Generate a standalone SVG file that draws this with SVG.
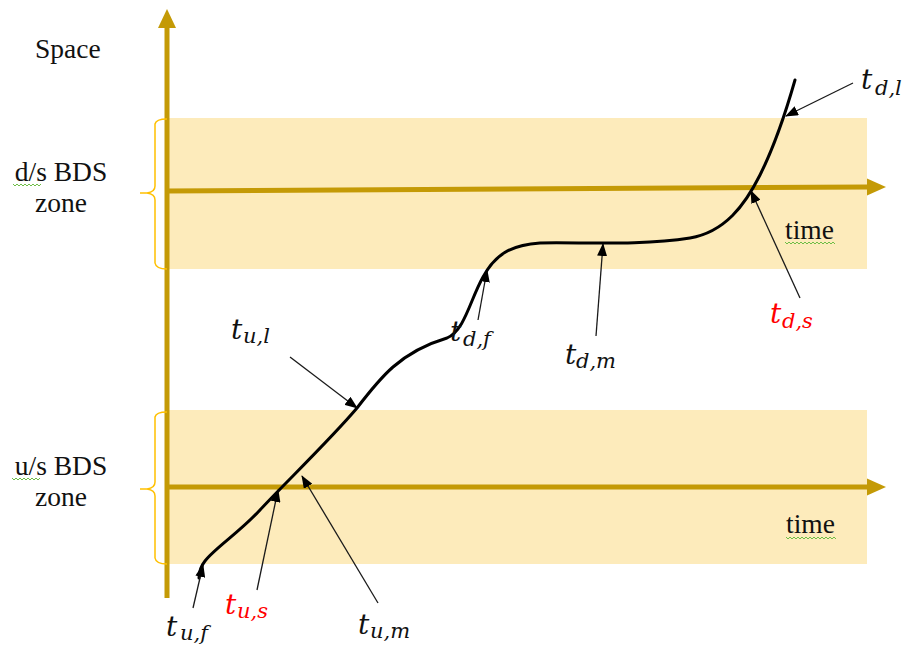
<svg xmlns="http://www.w3.org/2000/svg" width="905" height="645" viewBox="0 0 905 645">
<style>
.band{fill:#FDEBBB}
.axis{stroke:#C49A06;stroke-width:5;fill:none}
.ahead{fill:#C49A06}
.brace{stroke:#FFC000;stroke-width:1.5;fill:none}
.ptr{stroke:#1a1a1a;stroke-width:1.3;fill:none;marker-end:url(#ah)}
.curve{stroke:#000;stroke-width:3;fill:none;stroke-linecap:round}
.txt{font-family:"Liberation Serif","Times New Roman",serif;font-size:27.5px;fill:#111}
.lbl{font-family:"DejaVu Serif",serif;font-style:italic;font-size:28px;fill:#111}
.sub{font-size:21px}
.red{fill:#FF0000}
.squig{stroke:#6DBE45;stroke-width:1;fill:none}
</style>
<defs>
<marker id="ah" markerWidth="13" markerHeight="10" refX="12" refY="5" orient="auto" markerUnits="userSpaceOnUse">
<path d="M0,0 L13,5 L0,10 z" fill="#000"/>
</marker>
</defs>

<g id="bands">
<rect class="band" x="167" y="118" width="700" height="151"/>
<rect class="band" x="167" y="410" width="700" height="154"/>
</g>

<g id="axes">
<line class="axis" x1="167" y1="598" x2="167" y2="26"/>
<path class="ahead" d="M167,9 L176,28 L158,28 z"/>
<line class="axis" x1="167" y1="191" x2="868" y2="187"/>
<path class="ahead" d="M886,187 L867,178.5 L867,195.5 z"/>
<line class="axis" x1="167" y1="487" x2="868" y2="487"/>
<path class="ahead" d="M886,487 L867,478.5 L867,495.5 z"/>
</g>

<g id="braces">
<path class="brace" d="M167,119 Q156,119 155,124 L155,186 Q155,192 147,193 L140,193 M147,193 Q155,194 155,200 L155,263 Q156,269 167,269"/>
<path class="brace" d="M167,412 Q156,412 155,417 L155,482 Q155,488 147,489 L140,489 M147,489 Q155,490 155,496 L155,558 Q156,564 167,564"/>
</g>

<g id="labels">
<text class="txt" x="35" y="58">Space</text>
<text class="txt" x="61" y="181" text-anchor="middle">d/s BDS</text>
<text class="txt" x="61" y="212" text-anchor="middle">zone</text>
<text class="txt" x="61" y="475" text-anchor="middle">u/s BDS</text>
<text class="txt" x="61" y="506" text-anchor="middle">zone</text>
<text class="txt" x="785" y="239">time</text>
<text class="txt" x="786" y="533">time</text>
<path class="squig" d="M13,184 l2,2 l2,-2 l2,2 l2,-2 l2,2 l2,-2 l2,2 l2,-2 l2,2 l2,-2 l2,2 l2,-2 l2,2 l2,-2"/>
<path class="squig" d="M12,478 l2,2 l2,-2 l2,2 l2,-2 l2,2 l2,-2 l2,2 l2,-2 l2,2 l2,-2 l2,2 l2,-2 l2,2 l2,-2"/>
<path class="squig" d="M785,242 l2,2 l2,-2 l2,2 l2,-2 l2,2 l2,-2 l2,2 l2,-2 l2,2 l2,-2 l2,2 l2,-2 l2,2 l2,-2 l2,2 l2,-2 l2,2 l2,-2 l2,2 l2,-2 l2,2 l2,-2 l2,2 l2,-2 l2,2"/>
<path class="squig" d="M786,537 l2,2 l2,-2 l2,2 l2,-2 l2,2 l2,-2 l2,2 l2,-2 l2,2 l2,-2 l2,2 l2,-2 l2,2 l2,-2 l2,2 l2,-2 l2,2 l2,-2 l2,2 l2,-2 l2,2 l2,-2 l2,2 l2,-2 l2,2"/>
</g>

<g id="trajectory">
<path class="curve" d="M199,578 C199,571 201,566 205,561 C215,548 240,532 260,510 S330,440 357,408 C380,378 400,352 447,338 C465,330 470,300 483,277 C495,255 510,245 540,243 C580,242 640,246 690,238 C725,232 745,205 760,175 C775,145 785,115 795,80"/>
</g>

<g id="connectors">
<line class="ptr" x1="853" y1="83" x2="786" y2="116"/>
<line class="ptr" x1="800" y1="298" x2="751" y2="191"/>
<line class="ptr" x1="596" y1="336" x2="603" y2="244"/>
<line class="ptr" x1="478" y1="320" x2="487" y2="270"/>
<line class="ptr" x1="290" y1="357" x2="357" y2="408"/>
<line class="ptr" x1="257" y1="590" x2="278" y2="490"/>
<line class="ptr" x1="378" y1="603" x2="302" y2="476"/>
<line class="ptr" x1="193" y1="608" x2="203" y2="565"/>
</g>

<g id="node-tdl"><text class="lbl" x="861" y="89">t<tspan class="sub" x="875" y="95">d,l</tspan></text></g>
<g id="node-tds"><text class="lbl red" x="770" y="323">t<tspan class="sub" x="782" y="328">d,s</tspan></text></g>
<g id="node-tdm"><text class="lbl" x="565" y="364">t<tspan class="sub" x="576" y="368">d,m</tspan></text></g>
<g id="node-tdf"><text class="lbl" x="450" y="341">t<tspan class="sub" x="463" y="346">d,f</tspan></text></g>
<g id="node-tul"><text class="lbl" x="231" y="339">t<tspan class="sub" x="243" y="343">u,l</tspan></text></g>
<g id="node-tuf"><text class="lbl" x="166" y="636">t<tspan class="sub" x="180" y="640">u,f</tspan></text></g>
<g id="node-tus"><text class="lbl red" x="225" y="614">t<tspan class="sub" x="237" y="618">u,s</tspan></text></g>
<g id="node-tum"><text class="lbl" x="358" y="634">t<tspan class="sub" x="370" y="638">u,m</tspan></text></g>
</svg>
